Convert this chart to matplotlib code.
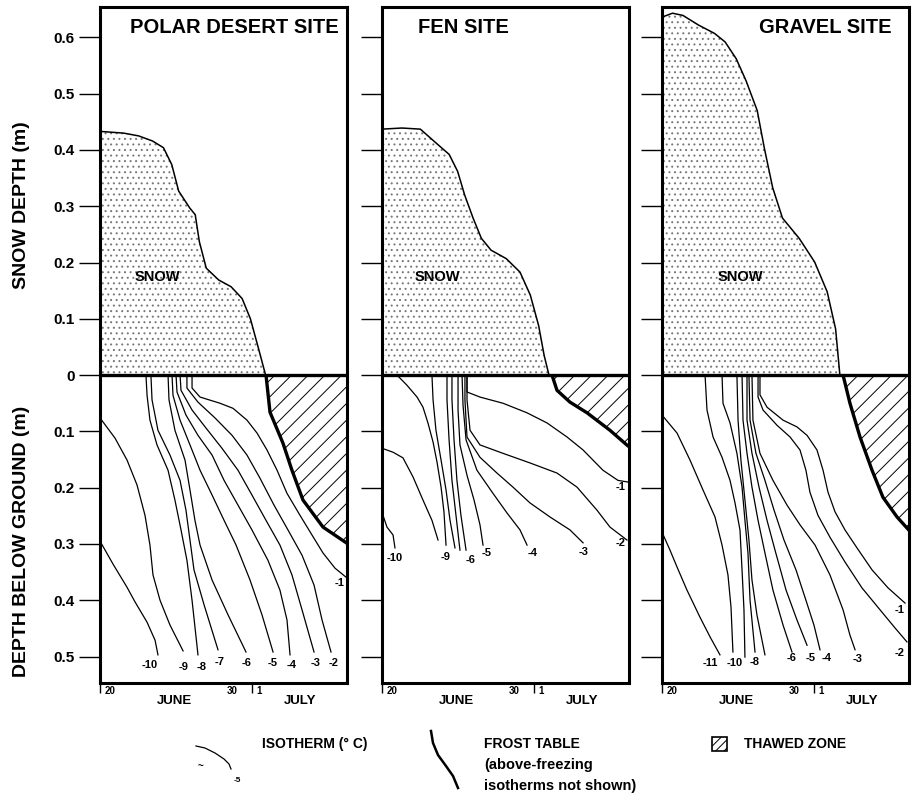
import numpy as np
import matplotlib
matplotlib.use("Agg")
from matplotlib import pyplot as plt
from matplotlib.patches import Rectangle

plt.rcParams['font.family'] = ['Liberation Sans', 'DejaVu Sans']
plt.rcParams['font.weight'] = 'bold'
plt.rcParams['hatch.linewidth'] = 0.7

# x = day of June (31 = July 1), depths in metres (snow up, ground down)

sites = ['POLAR DESERT SITE', 'FEN SITE', 'GRAVEL SITE']

# snow depth curves
polar_snow_day = [20, 21.7, 22.8, 23.8, 24.6, 25.2, 25.7, 26.5, 26.9, 27.2, 27.7, 28.6, 29.5, 30.3, 30.9, 31.5, 32.0]
polar_snow_m = [0.433, 0.43, 0.425, 0.416, 0.404, 0.374, 0.327, 0.297, 0.285, 0.237, 0.19, 0.169, 0.157, 0.136, 0.10, 0.046, 0.0]
fen_snow_day = [20, 21.45, 22.78, 23.75, 24.87, 25.48, 25.99, 26.6, 27.2, 27.9, 29.0, 30.0, 30.75, 31.35, 31.75, 32.1]
fen_snow_m = [0.437, 0.439, 0.437, 0.416, 0.392, 0.362, 0.32, 0.279, 0.243, 0.222, 0.207, 0.183, 0.142, 0.088, 0.035, 0.0]
gravel_snow_day = [20, 20.76, 21.52, 22.64, 23.81, 24.57, 25.38, 26.09, 26.9, 27.41, 28.02, 28.73, 29.94, 31.06, 31.97, 32.58, 32.89]
gravel_snow_m = [0.636, 0.643, 0.639, 0.622, 0.607, 0.592, 0.562, 0.523, 0.47, 0.404, 0.333, 0.279, 0.243, 0.201, 0.148, 0.082, 0.0]

# frost table
polar_frost_day = [32.03, 32.32, 33.26, 33.91, 34.71, 36.16, 37.97]
polar_frost_m = [0, 0.066, 0.121, 0.169, 0.222, 0.27, 0.30]
fen_frost_day = [32.32, 32.68, 33.62, 34.86, 36.52, 37.83, 38.0]
fen_frost_m = [0, 0.027, 0.048, 0.067, 0.098, 0.126, 0.128]
gravel_frost_day = [33.12, 33.62, 34.35, 35.22, 36.01, 37.03, 37.95]
gravel_frost_m = [0, 0.05, 0.11, 0.169, 0.217, 0.252, 0.277]

# isotherms (deg C): (days, depths)
polar_iso = {
    -10: ([20.0, 20.95, 21.96, 22.54, 23.41, 23.99, 24.2], [0.295, 0.336, 0.377, 0.403, 0.439, 0.471, 0.497]),
    -9: ([20.0, 21.09, 21.96, 22.68, 23.26, 23.62, 23.84, 24.35, 25.07, 26.02],
         [0.076, 0.112, 0.151, 0.195, 0.249, 0.302, 0.355, 0.40, 0.444, 0.490]),
    -8: ([23.33, 23.41, 23.62, 24.13, 24.93, 25.43, 25.87, 26.3, 26.67, 27.1],
         [0, 0.036, 0.080, 0.124, 0.169, 0.222, 0.275, 0.329, 0.40, 0.497]),
    -7: ([23.69, 23.77, 24.2, 25.07, 25.8, 26.23, 26.52, 26.81, 27.54, 28.55],
         [0, 0.044, 0.098, 0.142, 0.187, 0.240, 0.293, 0.346, 0.408, 0.488]),
    -6: ([24.93, 25.0, 25.43, 26.16, 26.52, 26.88, 27.25, 28.12, 29.28, 30.58],
         [0, 0.044, 0.098, 0.151, 0.204, 0.258, 0.302, 0.364, 0.426, 0.492]),
    -5: ([25.22, 25.29, 25.8, 26.52, 27.25, 28.12, 28.99, 29.86, 30.87, 31.74, 32.54],
         [0, 0.036, 0.080, 0.124, 0.169, 0.213, 0.258, 0.302, 0.364, 0.426, 0.492]),
    -4: ([25.51, 25.58, 26.23, 27.1, 28.12, 28.99, 30.0, 31.01, 32.17, 33.04, 33.55, 33.77],
         [0, 0.030, 0.071, 0.107, 0.142, 0.187, 0.231, 0.275, 0.329, 0.382, 0.435, 0.497]),
    -3: ([25.8, 25.87, 26.67, 27.68, 28.84, 30.0, 31.01, 32.03, 33.04, 33.91, 34.64, 35.51],
         [0, 0.027, 0.062, 0.094, 0.130, 0.169, 0.213, 0.258, 0.302, 0.355, 0.417, 0.492]),
    -2: ([26.3, 26.3, 27.1, 28.33, 29.57, 30.65, 31.59, 32.61, 33.62, 34.64, 35.51, 36.09, 36.74],
         [0, 0.023, 0.048, 0.076, 0.107, 0.142, 0.183, 0.231, 0.275, 0.320, 0.373, 0.435, 0.492]),
    -1: ([26.67, 26.67, 27.25, 28.7, 29.64, 30.65, 31.38, 32.1, 32.83, 33.55, 34.49, 35.36, 36.16, 37.03, 37.83],
         [0, 0.023, 0.039, 0.050, 0.059, 0.080, 0.103, 0.133, 0.169, 0.210, 0.249, 0.284, 0.316, 0.343, 0.359]),
}
fen_iso = {
    -10: ([20.07, 20.36, 20.8, 20.94], [0.249, 0.270, 0.284, 0.307]),
    -10.5: ([20.0, 20.8, 21.52, 22.25, 22.97, 23.62, 24.06], [0.130, 0.137, 0.147, 0.181, 0.222, 0.258, 0.293]),
    -9: ([21.09, 21.81, 22.54, 22.97, 23.33, 23.7, 23.99, 24.28, 24.49, 24.64],
         [0, 0.018, 0.039, 0.057, 0.085, 0.119, 0.155, 0.199, 0.243, 0.302]),
    -8: ([23.62, 23.7, 23.91, 24.28, 24.64, 24.93, 25.29], [0, 0.044, 0.098, 0.151, 0.204, 0.258, 0.307]),
    -7: ([24.71, 24.71, 24.86, 25.07, 25.36, 25.65], [0, 0.044, 0.115, 0.187, 0.249, 0.311]),
    -6: ([25.07, 25.07, 25.22, 25.43, 25.72, 26.09], [0, 0.044, 0.115, 0.187, 0.249, 0.311]),
    -5: ([25.51, 25.51, 25.65, 26.16, 26.67, 27.1, 27.32], [0, 0.062, 0.124, 0.178, 0.222, 0.266, 0.302]),
    -4: ([25.8, 25.87, 26.09, 26.88, 28.04, 29.06, 30.0, 30.51], [0, 0.053, 0.115, 0.169, 0.210, 0.245, 0.275, 0.302]),
    -3: ([26.01, 26.01, 26.16, 27.1, 28.33, 29.49, 30.72, 32.17, 33.62, 34.57],
         [0, 0.044, 0.110, 0.146, 0.174, 0.199, 0.227, 0.252, 0.275, 0.298]),
    -2: ([26.16, 26.16, 26.38, 27.1, 28.77, 30.72, 32.68, 34.13, 35.58, 36.52, 37.75],
         [0, 0.044, 0.098, 0.124, 0.139, 0.156, 0.174, 0.199, 0.240, 0.270, 0.293]),
    -1: ([26.16, 26.16, 27.1, 28.77, 30.51, 31.96, 33.41, 34.57, 36.01, 37.1, 37.83],
         [0, 0.030, 0.039, 0.050, 0.067, 0.085, 0.110, 0.133, 0.169, 0.187, 0.190]),
}
gravel_iso = {
    -11: ([20.0, 20.58, 21.09, 21.81, 22.75, 23.48, 24.2], [0.279, 0.311, 0.341, 0.382, 0.430, 0.465, 0.497]),
    -10: ([20.0, 21.09, 22.03, 22.97, 23.84, 24.35, 24.78, 25.0, 25.14],
          [0.071, 0.103, 0.151, 0.204, 0.252, 0.302, 0.355, 0.412, 0.492]),
    -9: ([23.12, 23.26, 23.70, 24.35, 24.93, 25.29, 25.65, 25.8, 25.94, 26.01],
         [0, 0.062, 0.110, 0.146, 0.187, 0.227, 0.275, 0.346, 0.417, 0.501]),
    -8: ([24.35, 24.42, 24.93, 25.43, 25.8, 26.01, 26.23, 26.38, 26.74],
         [0, 0.050, 0.085, 0.139, 0.199, 0.258, 0.316, 0.40, 0.492]),
    -7: ([25.43, 25.51, 25.72, 26.01, 26.3, 26.52, 26.88, 27.46], [0, 0.080, 0.151, 0.222, 0.293, 0.364, 0.426, 0.497]),
    -6: ([25.8, 25.87, 26.16, 26.52, 26.96, 27.46, 28.04, 28.77, 29.42],
         [0, 0.080, 0.139, 0.199, 0.258, 0.316, 0.382, 0.444, 0.492]),
    -5: ([26.16, 26.16, 26.52, 27.03, 27.61, 28.19, 28.99, 29.78, 30.51],
         [0, 0.080, 0.139, 0.199, 0.258, 0.311, 0.382, 0.435, 0.480]),
    -4: ([26.3, 26.38, 26.81, 27.46, 28.12, 28.84, 29.71, 30.43, 31.01, 31.45],
         [0, 0.080, 0.139, 0.187, 0.240, 0.293, 0.346, 0.40, 0.444, 0.488]),
    -3: ([26.52, 26.59, 27.1, 28.04, 29.06, 30.0, 31.09, 32.17, 33.12, 33.62, 33.99],
         [0, 0.080, 0.139, 0.187, 0.231, 0.266, 0.302, 0.355, 0.417, 0.462, 0.488]),
    -2: ([26.96, 26.96, 27.32, 28.33, 29.28, 30.0, 30.43, 30.72, 31.3, 32.17, 33.26, 34.49, 35.8, 36.88, 37.75],
         [0, 0.039, 0.062, 0.089, 0.110, 0.133, 0.169, 0.208, 0.249, 0.288, 0.332, 0.378, 0.417, 0.449, 0.474]),
    -1: ([27.1, 27.1, 27.61, 28.77, 29.78, 30.51, 31.23, 31.67, 32.03, 32.54, 33.26, 34.13, 35.22, 36.38, 37.61],
         [0, 0.035, 0.057, 0.080, 0.092, 0.107, 0.133, 0.169, 0.208, 0.243, 0.275, 0.307, 0.346, 0.378, 0.405]),
}

# isotherm labels: text, day, depth
polar_labels = [('-10', 23.62, 0.515), ('-9', 26.02, 0.519), ('-8', 27.39, 0.519), ('-7', 28.7, 0.51),
                ('-6', 30.65, 0.512), ('-5', 32.54, 0.512), ('-4', 33.91, 0.515), ('-3', 35.65, 0.512),
                ('-2', 36.96, 0.512), ('-1', 37.39, 0.369)]
fen_labels = [('-10', 20.94, 0.325), ('-9', 24.64, 0.323), ('-6', 26.45, 0.329), ('-5', 27.61, 0.316),
              ('-4', 30.94, 0.316), ('-3', 34.64, 0.314), ('-2', 37.32, 0.298), ('-1', 37.32, 0.199)]
gravel_labels = [('-11', 23.48, 0.512), ('-10', 25.29, 0.512), ('-8', 26.74, 0.51), ('-6', 29.42, 0.503),
                 ('-5', 30.8, 0.503), ('-4', 31.96, 0.503), ('-3', 34.2, 0.504), ('-2', 37.25, 0.494),
                 ('-1', 37.25, 0.417)]

snow_day = [polar_snow_day, fen_snow_day, gravel_snow_day]
snow_m = [polar_snow_m, fen_snow_m, gravel_snow_m]
frost_day = [polar_frost_day, fen_frost_day, gravel_frost_day]
frost_m = [polar_frost_m, fen_frost_m, gravel_frost_m]
isotherms = [polar_iso, fen_iso, gravel_iso]
iso_labels = [polar_labels, fen_labels, gravel_labels]
snow_text_day = [24.13, 23.99, 25.65]

snow_ticks = [0.6, 0.5, 0.4, 0.3, 0.2, 0.1]
ground_ticks = [0.1, 0.2, 0.3, 0.4, 0.5]

W, H = 914, 800
fig = plt.figure(figsize=(W / 100, H / 100), dpi=100)

lefts = [100, 382, 662]
title_x = [0.968, 0.146, 0.93]
title_ha = ['right', 'left', 'right']
pw, pb, ph = 247, 117, 676

yt = snow_ticks + [0] + [-t for t in ground_ticks]
ytl = ['%g' % abs(t) for t in yt]

for i in range(3):
    ax = fig.add_axes([lefts[i] / W, pb / H, pw / W, ph / H])
    ax.set_xlim(20, 20 + pw / 13.8)
    ax.set_ylim(-0.547, 0.654)

    # snow
    ax.fill_between(snow_day[i], 0, snow_m[i], facecolor='white', edgecolor='#777777',
                    hatch='...', linewidth=0)
    ax.plot(snow_day[i], snow_m[i], color='k', lw=1.1)
    ax.text(snow_text_day[i], 0.174, 'SNOW', fontsize=10.5, ha='center', va='center')

    # thawed zone
    fd = frost_day[i]
    fm = -np.array(frost_m[i])
    ax.fill_between(fd, fm, 0, facecolor='white', edgecolor='k', hatch='//', linewidth=0)
    ax.plot(fd, fm, color='k', lw=2.4, solid_capstyle='butt')

    # isotherms
    for t, (d, m) in isotherms[i].items():
        ax.plot(d, -np.array(m), color='k', lw=0.9)
    for txt, d, m in iso_labels[i]:
        ax.text(d, -m, txt, fontsize=8, ha='center', va='center')

    ax.axhline(0, color='k', lw=2.4)

    ax.text(title_x[i], 0.969, sites[i], transform=ax.transAxes, ha=title_ha[i], va='center',
            fontsize=14.5, family=['Liberation Sans Narrow', 'Liberation Sans'])

    for s in ax.spines.values():
        s.set_linewidth(2.2)

    ax.set_yticks(yt)
    if i == 0:
        ax.set_yticklabels(ytl, fontsize=11)
    else:
        ax.set_yticklabels([])
    ax.tick_params(axis='y', length=15, width=1.0, pad=3)

    ax.set_xticks([20, 31])
    ax.set_xticklabels([])
    ax.tick_params(axis='x', length=7, width=1.0)

    tr = ax.get_xaxis_transform()
    ax.text(20.3, -0.012, '20', transform=tr, fontsize=7, ha='left', va='center')
    ax.text(29.6, -0.012, '30', transform=tr, fontsize=7, ha='center', va='center')
    ax.text(31.3, -0.012, '1', transform=tr, fontsize=7, ha='left', va='center')
    ax.text(25.4, -0.026, 'JUNE', transform=tr, fontsize=9.5, ha='center', va='center')
    ax.text(34.5, -0.026, 'JULY', transform=tr, fontsize=9.5, ha='center', va='center')

fig.text(22 / W, 1 - 205 / H, 'SNOW DEPTH (m)', rotation=90, ha='center', va='center', fontsize=14)
fig.text(22 / W, 1 - 541 / H, 'DEPTH BELOW GROUND (m)', rotation=90, ha='center', va='center', fontsize=14)

# key at the bottom
key = fig.add_axes([0, 0, 1, 1])
key.set_xlim(0, W)
key.set_ylim(H, 0)
key.axis('off')
key.plot([196, 205, 215, 224, 229, 231], [746, 748, 753, 759, 764, 769], color='k', lw=0.9)
key.text(201, 767, '~', fontsize=7, ha='center', va='center')
key.text(237, 780, '-5', fontsize=6, ha='center', va='center')
key.text(262, 744, 'ISOTHERM (° C)', fontsize=10, ha='left', va='center')
key.plot([431, 433, 438, 446, 453, 458], [731, 743, 755, 766, 776, 788], color='k', lw=1.8)
key.text(484, 744, 'FROST TABLE', fontsize=10, ha='left', va='center')
key.text(484, 765, '(above-freezing', fontsize=10.5, ha='left', va='center')
key.text(484, 786, 'isotherms not shown)', fontsize=10.5, ha='left', va='center')
key.add_patch(Rectangle((712, 737), 15, 14, facecolor='white', edgecolor='k', hatch='////', lw=1.2))
key.text(744, 744, 'THAWED ZONE', fontsize=10, ha='left', va='center')

fig.savefig('out.png', dpi=100)
